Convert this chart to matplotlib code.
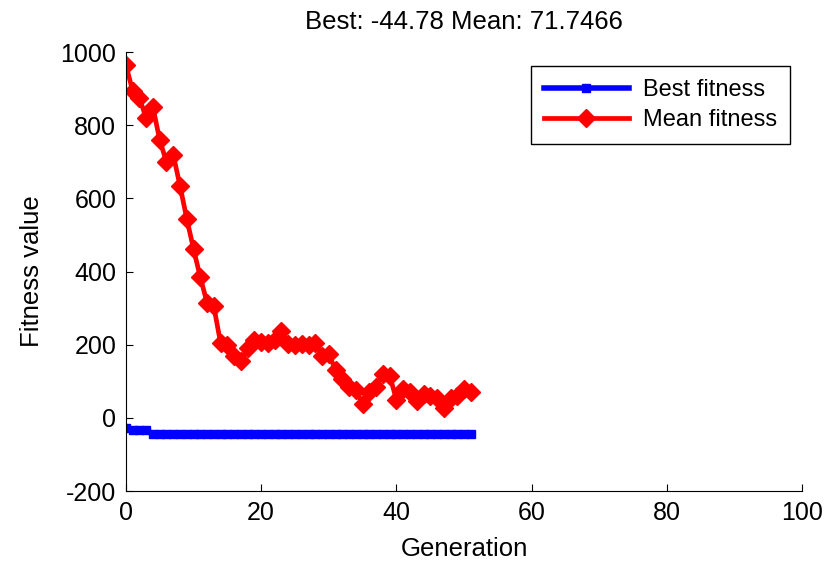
import matplotlib
matplotlib.use("Agg")
import matplotlib.pyplot as plt
import numpy as np

plt.rcParams['font.family'] = ['Liberation Sans', 'DejaVu Sans']
plt.rcParams['axes.unicode_minus'] = False

generations = list(range(52))
best_fitness = [-28, -32, -32, -32] + [-44.78] * 48
mean_fitness = [965, 895, 875, 820, 850, 760, 700, 720, 635, 545,
                462, 385, 315, 305, 205, 200, 170, 155, 190, 213,
                208, 205, 213, 238, 202, 200, 202, 198, 205, 170,
                175, 130, 105, 85, 75, 38, 72, 85, 120, 115,
                50, 80, 70, 45, 65, 60, 55, 28, 55, 60,
                80, 71.7466]
title_text = "Best: -44.78 Mean: 71.7466"
x_ticks = [0, 20, 40, 60, 80, 100]
y_ticks = [-200, 0, 200, 400, 600, 800, 1000]

fig = plt.figure(figsize=(8.28, 5.67), dpi=100)
ax = fig.add_axes([0.152, 0.134, 0.817, 0.774])

ax.plot(generations, best_fitness, color='#0000ff', lw=4.0, marker='s',
        markersize=5.5, label='Best fitness')
ax.plot(generations, mean_fitness, color='#ff0000', lw=3.4, marker='D',
        markersize=9, label='Mean fitness')

ax.set_xlim(0, 100)
ax.set_ylim(-200, 1000)
ax.set_xticks(x_ticks)
ax.set_yticks(y_ticks)
ax.tick_params(direction='in', length=5, labelsize=18, width=0.8, pad=7)
ax.spines['top'].set_visible(False)
ax.spines['right'].set_visible(False)
ax.set_xlabel('Generation', fontsize=18.5, labelpad=9)
ax.set_ylabel('Fitness value', fontsize=18.5, labelpad=12)
ax.set_title(title_text, fontsize=18.5, pad=17)

leg = ax.legend(loc='upper right', bbox_to_anchor=(0.982, 0.968), fontsize=17,
                fancybox=False, edgecolor='black', framealpha=1,
                handlelength=3.6, handletextpad=0.6, borderpad=0.55,
                labelspacing=0.35, borderaxespad=0)
leg.get_frame().set_linewidth(1.0)

fig.savefig('out.png', dpi=100)
